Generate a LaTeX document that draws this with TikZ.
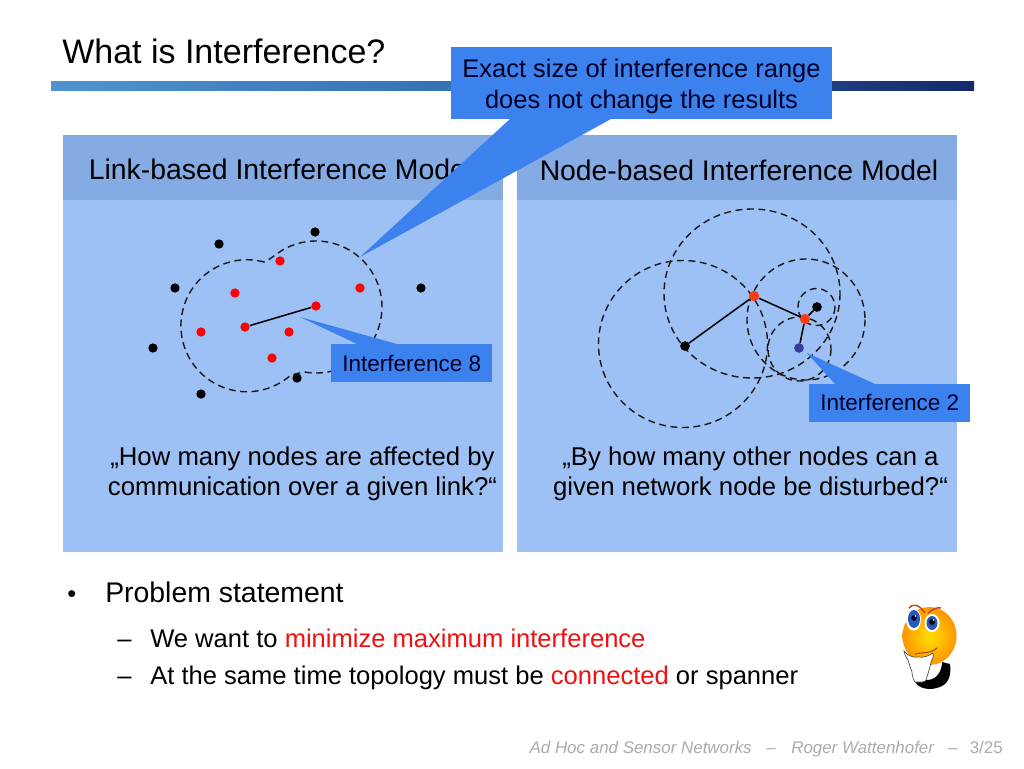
\documentclass[tikz,border=0pt]{standalone}
\usepackage{fontspec}
\setmainfont{Liberation Sans}
\definecolor{panel}{HTML}{9DC0F5}
\definecolor{head}{HTML}{84ABE4}
\definecolor{call}{HTML}{3B82EE}
\definecolor{barL}{HTML}{4F94D0}
\definecolor{barM}{HTML}{2F6CB0}
\definecolor{barR}{HTML}{14296B}
\definecolor{foot}{HTML}{ABABAB}
\definecolor{redtxt}{HTML}{F01010}
\definecolor{nodeR}{HTML}{FF3A10}
\definecolor{nodeB}{HTML}{3A3AA0}
\definecolor{faceIn}{HTML}{FFE000}
\definecolor{faceOut}{HTML}{FF9500}
\definecolor{iris}{HTML}{2A5AB8}
\definecolor{brow}{HTML}{B84A20}
\newcommand{\fs}[1]{\fontsize{#1}{#1}\selectfont}
\tikzset{
  x=0.75pt,y=-0.75pt,
  dotk/.style={circle,fill=black,inner sep=0pt,minimum size=7pt},
  dotr/.style={circle,fill=red,inner sep=0pt,minimum size=7pt},
  doto/.style={circle,fill=nodeR,inner sep=0pt,minimum size=7.5pt},
  dotb/.style={circle,fill=nodeB,inner sep=0pt,minimum size=7pt},
  rangeline/.style={draw=black!90,dash pattern=on 5.2pt off 3.4pt,line width=1.05pt},
  linkline/.style={draw=black,line width=1.15pt},
  callbox/.style={fill=call,inner sep=0pt,text=black!85!blue,align=center,anchor=north west},
  txt/.style={inner sep=0pt,anchor=base west},
  ctxt/.style={inner sep=0pt,anchor=base},
}
\begin{document}
\begin{tikzpicture}
\useasboundingbox (0,0) rectangle (1024,768);
\fill[white] (0,0) rectangle (1024,768);
% title and bar
\node[txt] (title) at (62,63) {\fs{25.5}What is Interference?};
\shade[left color=barL,right color=barR,middle color=barM] (51,81) rectangle (974,90);
% panels
\fill[panel] (63,135) rectangle (503,552);
\fill[panel] (517,135) rectangle (957,552);
\fill[head] (63,135) rectangle (503,200);
\fill[head] (517,135) rectangle (957,200);
\node[txt] (hl) at (88.5,179) {\fs{21.3}Link-based Interference Model};
\node[txt] (hr) at (539.5,180) {\fs{21.25}Node-based Interference Model};
% left network
\foreach \n/\x/\y in {k1/219/244,k2/315/232,k3/175/288,k4/421/288,k5/153/348,k6/201/394,k7/297/378}
  \node[dotk] (\n) at (\x,\y) {};
\foreach \n/\x/\y in {r1/280/261,r2/235/293,r3/360/288,r4/316/306,r5/245/327,r6/201/332,r7/289/332,r8/272/358}
  \node[dotr] (\n) at (\x,\y) {};
\draw[linkline] (r5) -- (r4);
\draw[rangeline] (264,262) arc[start angle=-75,end angle=-310,radius=66]
  .. controls (291,375) and (296,373.5) .. (304.5,372)
  arc[start angle=100,end angle=-125,radius=66]
  .. controls (273,256) and (270,260) .. (264,262);
% right network
\node[dotk] (a) at (685,346) {};
\node[doto] (b) at (754,296) {};
\node[doto] (c) at (805,319) {};
\node[dotk] (d) at (817,307) {};
\node[dotb] (e) at (799,348) {};
\draw[linkline] (a) -- (b);
\draw[linkline] (b) -- (c);
\draw[linkline] (c) -- (d);
\draw[linkline] (c) -- (e);
\draw[rangeline] (683,344) ellipse[x radius=84.5,y radius=83.5];
\draw[rangeline] (752,293.5) ellipse[x radius=88,y radius=84.5];
\draw[rangeline] (806,319.5) ellipse[x radius=59,y radius=60.5];
\draw[rangeline] (816.5,307) circle[radius=18.5];
\draw[rangeline] (799.5,349) ellipse[x radius=31.5,y radius=32];
\node[dotk] at (a) {};
\node[doto] at (b) {};
\node[doto] at (c) {};
\node[dotk] at (d) {};
\node[dotb] at (e) {};
% quotes
\node[ctxt] (q1) at (302.5,465) {\fs{19.3}„How many nodes are affected by};
\node[ctxt] (q2) at (302.5,495) {\fs{19.3}communication over a given link?“};
\node[ctxt] (q3) at (750.5,465) {\fs{19.3}„By how many other nodes can a};
\node[ctxt] (q4) at (750.5,495) {\fs{19.3}given network node be disturbed?“};
% callouts
\fill[call] (300,317) -- (357,344) -- (397,344) -- cycle;
\fill[call] (807,353) -- (835,384) -- (875,384) -- cycle;
\fill[call] (360,257) -- (510,119) -- (611,119) -- cycle;
\node[callbox,minimum width=120.75pt,minimum height=28.5pt] (c8) at (331,344) {\fs{16.9}Interference 8};
\node[callbox,minimum width=120.75pt,minimum height=28pt] (c2) at (809,384) {\fs{16.9}Interference 2};
\node[callbox,minimum width=285.75pt,minimum height=54pt] (ct) at (451,47) {};
\node[ctxt,text=black!85!blue] (ct1) at (641.5,77) {\fs{19.1}Exact size of interference range};
\node[ctxt,text=black!85!blue] (ct2) at (641.5,108) {\fs{19.1}does not change the results};
% bullets
\node[txt] (b1) at (67,602) {\fs{19}•};
\node[txt] (t1) at (105,602) {\fs{21.3}Problem statement};
\node[txt] (b2) at (117,647) {\fs{19.2}–};
\node[txt] (t2) at (150,647) {\fs{19.17}We want to \textcolor{redtxt}{minimize maximum interference}};
\node[txt] (b3) at (117,684) {\fs{19.2}–};
\node[txt] (t3) at (150,684) {\fs{19.17}At the same time topology must be \textcolor{redtxt}{connected} or spanner};
% footer
\node[inner sep=0pt,anchor=base east,text=foot] (f1) at (752,753) {\fs{12.7}\textit{Ad Hoc and Sensor Networks}};
\node[inner sep=0pt,anchor=base,text=foot] (f2) at (771,753) {\fs{12.7}\textit{–}};
\node[inner sep=0pt,anchor=base west,text=foot] (f3) at (791,753) {\fs{12.7}\textit{Roger Wattenhofer}};
\node[inner sep=0pt,anchor=base,text=foot] (f4) at (953,753) {\fs{12.7}\textit{–}};
\node[inner sep=0pt,anchor=base east,text=foot] (f5) at (1003,753) {\fs{12.7}3/25};
% smiley
\fill[black] (950,664) .. controls (952,680) and (946,688) .. (930,689) .. controls (924,689) and (918,687) .. (915,682) -- (927,680) .. controls (936,680) and (942,672) .. (942,662) -- cycle;
\shade[inner color=faceIn,outer color=faceOut] (929.5,636) ellipse[x radius=27,y radius=29];
\filldraw[fill=white,draw=black!70,line width=0.5pt] (904,651) .. controls (908,656) and (914,658) .. (918,657) .. controls (923,658) and (929,656) .. (933,653) .. controls (934,657) and (932,660) .. (931,662) .. controls (930,668) and (928,673) .. (927,677) .. controls (926,681) and (925,682) .. (922,682) -- (915,682) .. controls (913,679) and (912,675) .. (912,672) .. controls (910,667) and (909,663) .. (908,660) .. controls (906,657) and (904,654) .. (904,651) -- cycle;
\draw[draw=brow,line width=0.8pt] (915,654) .. controls (922,652) and (930,654) .. (937,648);
\fill[white] (913.5,619.5) ellipse[x radius=7.5,y radius=11];
\fill[white] (932,623) ellipse[x radius=7.5,y radius=9];
\fill[iris] (914,619) ellipse[x radius=6,y radius=9];
\fill[iris] (932,623) ellipse[x radius=5.5,y radius=7];
\fill[black!80!blue] (914,618) circle[radius=2.8];
\fill[black] (932,622) circle[radius=3];
\fill[white] (915.5,616) circle[radius=0.9];
\fill[white] (933.5,620) circle[radius=0.9];
\draw[brow,line width=1.1pt] (909,608) .. controls (912,604) and (918,603) .. (925,613);
\draw[brow,line width=1.1pt] (928,613) .. controls (933,609) and (937,607) .. (941,608);
\end{tikzpicture}
\end{document}
